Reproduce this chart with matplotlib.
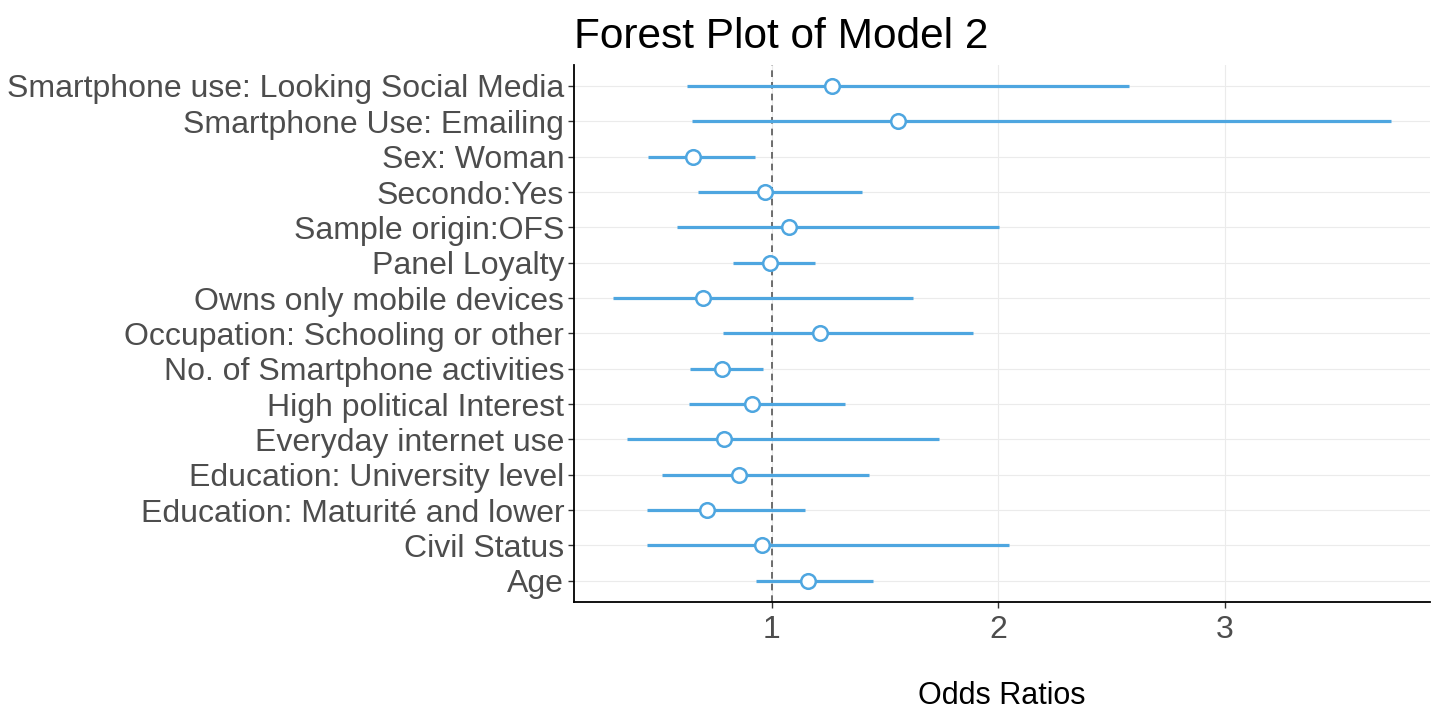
import matplotlib
matplotlib.use("Agg")
import matplotlib.pyplot as plt

# rows listed bottom -> top (as drawn)
labels = [
    "Age",
    "Civil Status",
    "Education: Maturité and lower",
    "Education: University level",
    "Everyday internet use",
    "High political Interest",
    "No. of Smartphone activities",
    "Occupation: Schooling or other",
    "Owns only mobile devices",
    "Panel Loyalty",
    "Sample origin:OFS",
    "Secondo:Yes",
    "Sex: Woman",
    "Smartphone Use: Emailing",
    "Smartphone use: Looking Social Media",
]
odds = [1.16, 0.956, 0.714, 0.856, 0.788, 0.913, 0.781, 1.213, 0.697, 0.991,
        1.074, 0.969, 0.650, 1.555, 1.266]
lower = [0.929, 0.447, 0.447, 0.514, 0.361, 0.634, 0.638, 0.782, 0.299, 0.829,
         0.579, 0.675, 0.454, 0.648, 0.623]
upper = [1.445, 2.046, 1.144, 1.430, 1.736, 1.322, 0.962, 1.886, 1.624, 1.19,
         2.001, 1.396, 0.926, 3.733, 2.576]

plt.rcParams["font.family"] = ["Liberation Sans", "DejaVu Sans"]
blue = "#4EA6E0"

fig = plt.figure(figsize=(14.35, 7.11), dpi=100)
ax = fig.add_axes([0.4, 0.1533, 0.5965, 0.7556])

y = list(range(len(labels)))
ax.axvline(1, color="#555555", ls=(0, (4, 3)), lw=1.2, zorder=2)
ax.hlines(y, lower, upper, color=blue, lw=2.3, zorder=3)
ax.plot(odds, y, "o", ms=10.5, mfc="white", mec=blue, mew=1.8, zorder=4)

ax.set_xlim(0.126, 3.905)
ax.set_ylim(-0.6, len(labels) - 0.4)
ax.set_yticks(y)
ax.set_yticklabels(labels)
ax.set_xticks([1, 2, 3])
ax.grid(True, color="#EBEBEB", lw=0.8, zorder=0)
ax.set_axisbelow(True)
for s in ["top", "right"]:
    ax.spines[s].set_visible(False)
for s in ["left", "bottom"]:
    ax.spines[s].set_linewidth(1.3)
    ax.spines[s].set_color("black")
ax.tick_params(axis="y", labelsize=23, colors="#333333", length=4, width=1, pad=3,
               labelcolor="#4D4D4D")
ax.tick_params(axis="x", labelsize=23, colors="#333333", length=4, width=1, pad=5,
               labelcolor="#4D4D4D")
ax.set_xlabel("Odds Ratios", fontsize=22, labelpad=26)
ax.set_title("Forest Plot of Model 2", fontsize=30.5, loc="left", pad=12)

fig.savefig("out.png", dpi=100)
